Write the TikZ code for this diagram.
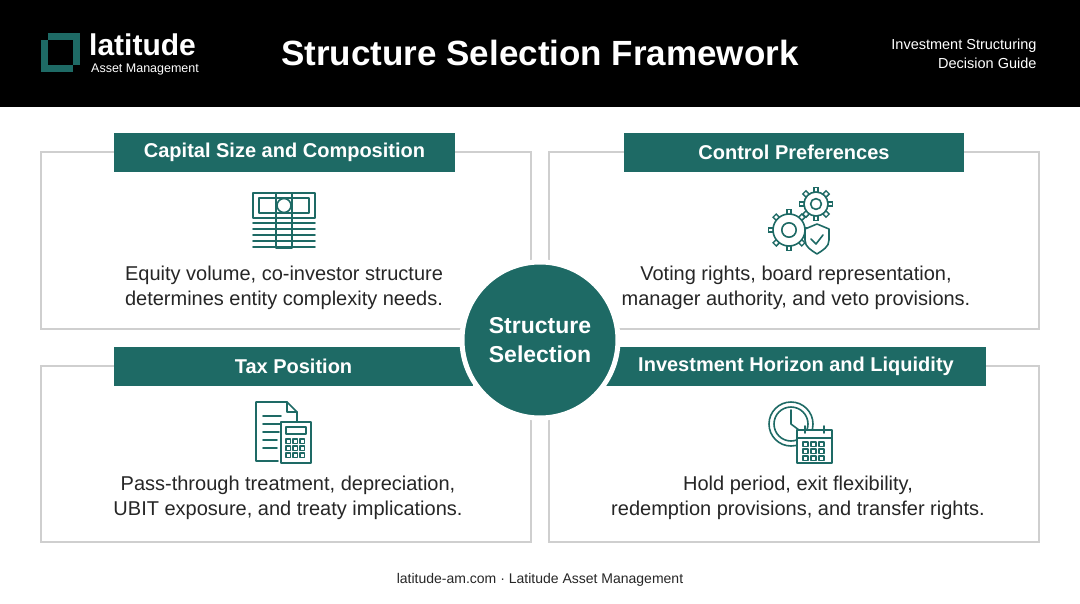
\documentclass[tikz,border=0pt]{standalone}
\usepackage{fontspec}
\setmainfont{Liberation Sans}
\usepackage{tikz}
\usetikzlibrary{positioning}
\definecolor{teal_main}{HTML}{1E6A65}
\definecolor{box_line}{HTML}{CFCFCF}
\tikzset{my_box/.style={draw=box_line, line width=1.2pt}}
\tikzset{my_bar/.style={fill=teal_main, text=white, font=\fontsize{20}{24}\selectfont\bfseries, inner sep=0pt, minimum height=39pt}}
\tikzset{my_text/.style={align=center, font=\fontsize{20}{25}\selectfont, text=black!85}}
\tikzset{my_icon/.style={draw=teal_main, line width=1.6pt, line join=round, line cap=round}}
\begin{document}
\begin{tikzpicture}[x=1pt, y=-1pt]
    \useasboundingbox (0,0) rectangle (1080,603);
    \fill[white] (0,0) rectangle (1080,603);
    % header
    \fill[black] (0,0) rectangle (1080,107);
    \fill[teal_main] (48,33) rectangle (80,40);
    \fill[teal_main] (73,33) rectangle (80,65);
    \fill[teal_main] (41,65) rectangle (73,72);
    \fill[teal_main] (41,40) rectangle (48,72);
    \node[anchor=west, text=white, font=\fontsize{30}{30}\selectfont\bfseries, inner sep=0pt] (logo) at (89,45) {latitude};
    \node[anchor=west, text=white, font=\fontsize{12.5}{13}\selectfont, inner sep=0pt] (logosub) at (91,69) {Asset Management};
    \node[text=white, font=\fontsize{35}{35}\selectfont\bfseries] (title) at (540,53) {Structure Selection Framework};
    \node[anchor=east, align=right, text=white, font=\fontsize{14.5}{19}\selectfont] (guide) at (1040,54) {Investment Structuring\\Decision Guide};

    % quadrant boxes
    \draw[my_box] (41,152) rectangle (531,329);
    \draw[my_box] (549,152) rectangle (1039,329);
    \draw[my_box] (41,366) rectangle (531,542);
    \draw[my_box] (549,366) rectangle (1039,542);

    \node[my_bar, minimum width=341pt] (capital) at (284.5,152.5) {Capital Size and Composition};
    \node[my_bar, minimum width=340pt] (control) at (794,152.5) {Control Preferences};
    \node[my_bar, minimum width=359pt] (tax) at (293.5,366.5) {Tax Position};
    \node[my_bar, minimum width=380pt] (horizon) at (796,366.5) {Investment Horizon and Liquidity};

    \node[my_text] (capital_txt) at (284,288) {Equity volume, co-investor structure\\determines entity complexity needs.};
    \node[my_text] (control_txt) at (796,288) {Voting rights, board representation,\\manager authority, and veto provisions.};
    \node[my_text] (tax_txt) at (288,498) {Pass-through treatment, depreciation,\\UBIT exposure, and treaty implications.};
    \node[my_text] (horizon_txt) at (798,498) {Hold period, exit flexibility,\\redemption provisions, and transfer rights.};

    % centre
    \node[circle, fill=teal_main, draw=white, line width=5pt, minimum size=156pt, align=center, text=white, font=\fontsize{23}{29}\selectfont\bfseries] (centre) at (540,340) {Structure\\Selection};

    % money icon
    \draw[my_icon] (253,193) rectangle (315,218);
    \draw[my_icon] (259,198) rectangle (309,213);
    \draw[my_icon] (284,205.5) ellipse (7 and 7);
    \foreach \y in {223,229,235,241,247}
        \draw[my_icon] (253,\y) -- (315,\y);
    \draw[my_icon] (276,193) rectangle (292,248);
    % gears icon
    \foreach \cx/\cy/\r in {789/230/16, 816/204/12}
    {
        \foreach \a in {0,45,...,315}
            \draw[teal_main, line width=6pt] (\cx,\cy) ++(\a:\r) -- ++(\a:5);
        \foreach \a in {0,45,...,315}
            \draw[white, line width=2.6pt] (\cx,\cy) ++(\a:\r) -- ++(\a:3.6);
        \draw[my_icon, fill=white] (\cx,\cy) circle (\r);
        \draw[my_icon] (\cx,\cy) circle (\r*0.45);
    }
    \draw[my_icon, fill=white] (817,224) -- (829,229) -- (829,240) .. controls (829,247) and (823,250) .. (817,254) .. controls (811,250) and (805,247) .. (805,240) -- (805,229) -- cycle;
    \draw[my_icon] (811,239) -- (816,244) -- (823,235);
    % document and calculator icon
    \draw[my_icon] (278,461) -- (256,461) -- (256,402) -- (287,402) -- (297,412) -- (297,421);
    \draw[my_icon] (287,402) -- (287,412) -- (297,412);
    \foreach \y/\l in {416/18,424/18,432/16,440/14,448/14}
        \draw[my_icon] (263,\y) -- ++(\l,0);
    \draw[my_icon, fill=white] (281,422) rectangle (311,463);
    \draw[my_icon] (286,427) rectangle (306,434);
    \foreach \i in {0,1,2}
        \foreach \j in {0,1,2}
            \draw[my_icon, line width=1.2pt] (286+\i*7,439+\j*7) rectangle ++(4.5,4.5);
    % clock and calendar icon
    \draw[my_icon] (791,424) circle (22);
    \draw[my_icon] (791,424) circle (17);
    \draw[my_icon] (791,410) -- (791,424) -- (799,430);
    \draw[my_icon, fill=white] (797,430) rectangle (832,463);
    \draw[my_icon] (797,438) -- (832,438);
    \draw[my_icon] (805,426) -- (805,433) (824,426) -- (824,433);
    \foreach \i in {0,1,2}
        \foreach \j in {0,1,2}
            \draw[my_icon, line width=1.2pt] (803+\i*8,442+\j*7) rectangle ++(5,4.5);

    % footer
    \node[font=\fontsize{14}{14}\selectfont, text=black!85] (footer) at (540,580) {latitude-am.com · Latitude Asset Management};
\end{tikzpicture}
\end{document}
